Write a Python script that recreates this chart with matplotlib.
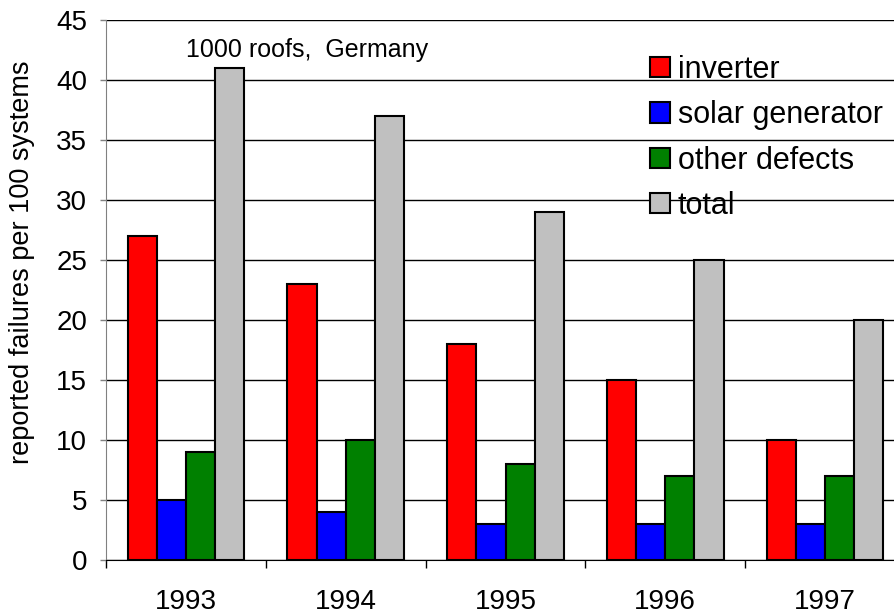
import numpy as np
import matplotlib
matplotlib.use("Agg")
import matplotlib.pyplot as plt

plt.rcParams["font.family"] = ["Liberation Sans", "DejaVu Sans"]

anos = ["1993", "1994", "1995", "1996", "1997"]
inverter = [27, 23, 18, 15, 10]
solar = [5, 4, 3, 3, 3]
outros = [9, 10, 8, 7, 7]
total = [41, 37, 29, 25, 20]

series = [
    ("inverter", inverter, "#ff0000"),
    ("solar generator", solar, "#0000ff"),
    ("other defects", outros, "#008000"),
    ("total", total, "#c0c0c0"),
]

fig = plt.figure(figsize=(8.94, 6.14), dpi=100)
# eixo passa um pouco da borda direita, como no original
ax = fig.add_axes([106 / 894, 54 / 614, 799 / 894, 540 / 614])

x = np.arange(len(anos))
w = 0.1825
for i, (nome, vals, cor) in enumerate(series):
    ax.bar(x + (i - 1.5) * w, vals, w, color=cor, edgecolor="black",
           linewidth=1.5, label=nome, zorder=3)

ax.set_xlim(-0.5, len(anos) - 0.5)
ax.set_ylim(0, 45)
ax.set_yticks(range(0, 46, 5))
ax.yaxis.grid(True, color="black", linewidth=1, zorder=0)

ax.set_xticks(np.arange(len(anos) + 1) - 0.5)
ax.set_xticklabels([])
ax.set_xticks(x, minor=True)
ax.set_xticklabels(anos, minor=True, fontsize=20)
ax.tick_params(axis="x", which="major", length=6, width=1, direction="out")
ax.tick_params(axis="x", which="minor", length=0, pad=21)
ax.tick_params(axis="y", labelsize=20, length=4.5, width=1, pad=9,
               color="#808080")

for s in ["top", "right"]:
    ax.spines[s].set_visible(False)
ax.spines["left"].set_color("#808080")
ax.spines["bottom"].set_color("black")

fig.text(22 / 894, 1 - 262 / 614, "reported failures per 100 systems",
         fontsize=19.5, rotation=90, ha="center", va="center")

ax.text(0.0, 42.5, "1000 roofs,  Germany", fontsize=18, ha="left", va="center")

leg = ax.legend(loc="upper left", bbox_to_anchor=(650 / 894, 1 - 55 / 614),
                bbox_transform=fig.transFigure, frameon=False,
                fontsize=22, handlelength=0.65, handleheight=0.65,
                handletextpad=0.26, labelspacing=0.5, borderaxespad=0,
                borderpad=0)

fig.savefig("out.png", dpi=100)
